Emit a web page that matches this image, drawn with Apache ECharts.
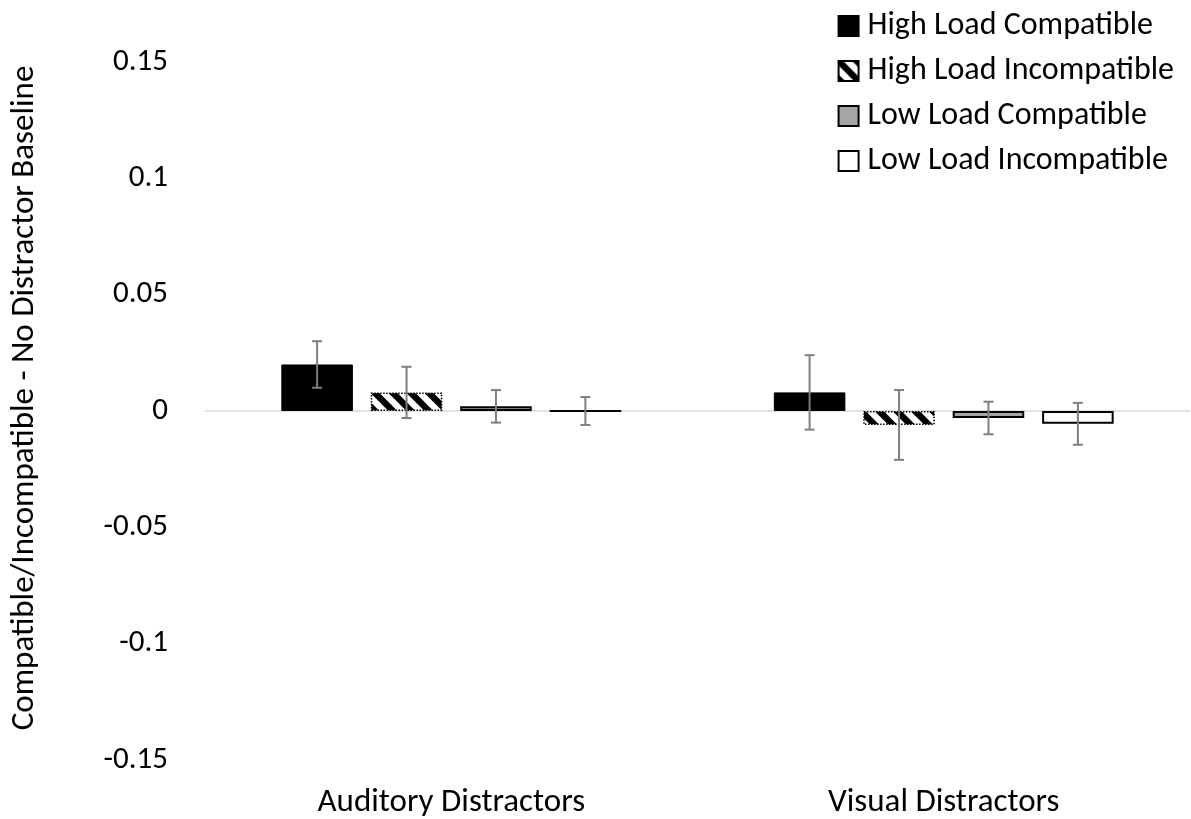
<!DOCTYPE html>
<html>
<head>
<meta charset="utf-8">
<script src="https://cdn.jsdelivr.net/npm/echarts@6/dist/echarts.min.js"></script>
<style>
html,body{margin:0;padding:0;background:#fff;}
#chart{width:1191px;height:819px;}
</style>
</head>
<body>
<div id="chart"></div>
<script>
// ---- data ----
const categories = ['Auditory Distractors', 'Visual Distractors'];
const seriesNames = ['High Load Compatible', 'High Load Incompatible', 'Low Load Compatible', 'Low Load Incompatible'];
const highLoadCompatible = [0.020, 0.008];
const highLoadIncompatible = [0.008, -0.006];
const lowLoadCompatible = [0.002, -0.003];
const lowLoadIncompatible = [0.000, -0.0055];
const errHighLoadCompatible = [0.010, 0.016];
const errHighLoadIncompatible = [0.011, 0.015];
const errLowLoadCompatible = [0.007, 0.007];
const errLowLoadIncompatible = [0.006, 0.009];
const yTicks = [-0.15, -0.1, -0.05, 0, 0.05, 0.1, 0.15];

const values = [highLoadCompatible, highLoadIncompatible, lowLoadCompatible, lowLoadIncompatible];
const errors = [errHighLoadCompatible, errHighLoadIncompatible, errLowLoadCompatible, errLowLoadIncompatible];

// hatch pattern
function makeHatch() {
  const P = 18;
  const c = document.createElement('canvas');
  c.width = P; c.height = P;
  const ctx = c.getContext('2d');
  ctx.fillStyle = '#fff';
  ctx.fillRect(0, 0, P, P);
  ctx.strokeStyle = '#000';
  ctx.lineWidth = 6.5;
  for (let k = -1; k <= 1; k++) {
    ctx.beginPath();
    ctx.moveTo(k * P - 2, -2);
    ctx.lineTo(k * P + P + 2, P + 2);
    ctx.stroke();
  }
  return c;
}
const hatch = makeHatch();

const FONT = 'Carlito, Lato, "Open Sans", sans-serif';
const barCatGap = 0.31, barGapFrac = 0.25, nBars = 4;

const styles = [
  { color: '#000000', borderColor: '#000000', borderWidth: 1 },
  { color: { image: hatch, repeat: 'repeat' }, borderColor: '#000000', borderWidth: 1.5, borderType: 'dotted' },
  { color: '#a6a6a6', borderColor: '#000000', borderWidth: 2 },
  { color: '#ffffff', borderColor: '#000000', borderWidth: 2 }
];

const barSeries = seriesNames.map((name, i) => ({
  name: name,
  type: 'bar',
  data: values[i],
  barGap: (barGapFrac * 100) + '%',
  barCategoryGap: (barCatGap * 100) + '%',
  itemStyle: styles[i],
  z: 2,
  markLine: i === 0 ? {
    silent: true,
    symbol: 'none',
    label: { show: false },
    lineStyle: { color: '#d9d9d9', width: 1.5, type: 'solid' },
    data: [{ yAxis: 0 }],
    z: 1
  } : undefined
}));

const errData = [];
values.forEach((arr, si) => {
  arr.forEach((v, ci) => {
    errData.push([ci, si, v - errors[si][ci], v + errors[si][ci]]);
  });
});

const errSeries = {
  type: 'custom',
  name: 'err',
  data: errData,
  encode: { x: 0, y: [2, 3] },
  z: 5,
  silent: true,
  renderItem: function (params, api) {
    const ci = api.value(0), si = api.value(1);
    const band = api.size([1, 0])[0];
    const bw = band * (1 - barCatGap) / (nBars + (nBars - 1) * barGapFrac);
    const total = nBars * bw + (nBars - 1) * bw * barGapFrac;
    const off = -total / 2 + si * bw * (1 + barGapFrac) + bw / 2;
    const lo = api.coord([ci, api.value(2)]);
    const hi = api.coord([ci, api.value(3)]);
    const x = lo[0] + off;
    const cap = 5;
    const st = { stroke: '#7f7f7f', lineWidth: 2 };
    return {
      type: 'group',
      children: [
        { type: 'line', shape: { x1: x, y1: lo[1], x2: x, y2: hi[1] }, style: st },
        { type: 'line', shape: { x1: x - cap, y1: lo[1], x2: x + cap, y2: lo[1] }, style: st },
        { type: 'line', shape: { x1: x - cap, y1: hi[1], x2: x + cap, y2: hi[1] }, style: st }
      ]
    };
  }
};

const chart = echarts.init(document.getElementById('chart'), null, { renderer: 'canvas' });
chart.setOption({
  animation: false,
  backgroundColor: '#ffffff',
  textStyle: { fontFamily: FONT },
  grid: { left: 205, right: 1, top: 62, bottom: 59, containLabel: false },
  legend: {
    data: seriesNames,
    orient: 'vertical',
    right: 12,
    top: 5,
    itemWidth: 20,
    itemHeight: 20,
    itemGap: 13,
    icon: 'rect',
    textStyle: { fontFamily: FONT, fontSize: 32, lineHeight: 32, color: '#000', padding: [0, 0, 0, 4] }
  },
  xAxis: {
    type: 'category',
    data: categories,
    axisLine: { show: false, onZero: false },
    axisTick: { show: false },
    splitLine: { show: false },
    axisLabel: { fontSize: 33, color: '#000', margin: 26, fontFamily: FONT }
  },
  yAxis: {
    type: 'value',
    min: yTicks[0],
    max: yTicks[yTicks.length - 1],
    interval: 0.05,
    name: 'Compatible/Incompatible - No Distractor Baseline',
    nameLocation: 'middle',
    nameGap: 164,
    nameTextStyle: { fontSize: 33, color: '#000', fontFamily: FONT, padding: [0, 0, 0, 26] },
    axisLine: { show: false },
    axisTick: { show: false },
    splitLine: { show: false },
    axisLabel: {
      fontSize: 31, color: '#000', margin: 37, fontFamily: FONT,
      formatter: function (v) { return String(Math.round(v * 100) / 100); }
    }
  },
  series: barSeries.concat([errSeries])
});
</script>
</body>
</html>
